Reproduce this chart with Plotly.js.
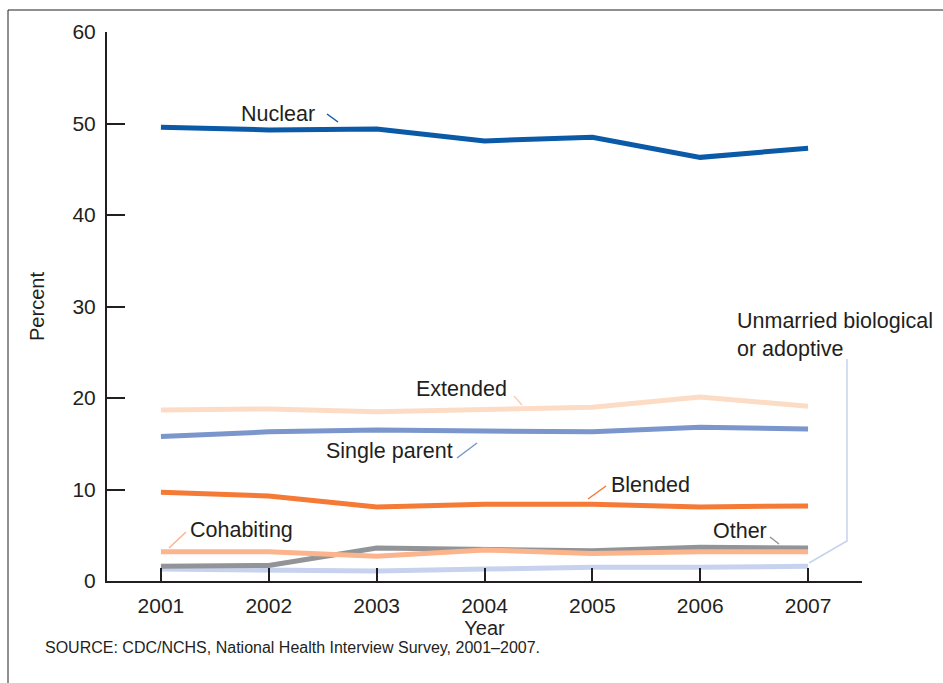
<!DOCTYPE html>
<html>
<head>
<meta charset="utf-8">
<script src="https://cdn.plot.ly/plotly-3.0.1.min.js"></script>
<style>html,body{margin:0;padding:0;background:#fff;}#chart{width:943px;height:683px;}</style>
</head>
<body>
<div id="chart"></div>
<script>
// ---- data ----
const years = [2001, 2002, 2003, 2004, 2005, 2006, 2007];
const nuclear      = [49.6, 49.3, 49.4, 48.1, 48.5, 46.3, 47.3];
const extended     = [18.7, 18.8, 18.5, 18.7, 19.0, 20.1, 19.1];
const singleParent = [15.8, 16.3, 16.5, 16.4, 16.3, 16.8, 16.6];
const blended      = [9.7, 9.3, 8.1, 8.4, 8.4, 8.1, 8.2];
const cohabiting   = [3.2, 3.2, 2.7, 3.4, 3.0, 3.2, 3.2];
const other        = [1.6, 1.7, 3.6, 3.5, 3.3, 3.7, 3.6];
const unmarried    = [1.3, 1.2, 1.1, 1.3, 1.5, 1.5, 1.6];
const yTicks = [0, 10, 20, 30, 40, 50, 60];
const seriesNames = ["Nuclear", "Extended", "Single parent", "Blended", "Cohabiting", "Other", "Unmarried biological<br>or adoptive"];

// ---- layout geometry (pixels) ----
const W = 943, H = 683, L = 107, R = 81, T = 32, B = 102;
const PW = W - L - R, PH = H - T - B;
const xr = [2000.5, 2007.5], yr = [0, 60];
const px2x = p => xr[0] + (p - L) / PW * (xr[1] - xr[0]);
const py2y = p => yr[0] + (H - B - p) / PH * (yr[1] - yr[0]);
const px2p = p => (p - L) / PW;
const py2p = p => (H - B - p) / PH;

const ink = '#231f20';
const font = 'Liberation Sans, Arial, sans-serif';

function tr(y, color, name) {
  return {x: years, y: y, type: 'scatter', mode: 'lines', name: name,
          line: {color: color, width: 5}, hoverinfo: 'skip'};
}
const data = [
  tr(unmarried, '#c7d2ee', 'Unmarried'),
  tr(other, '#929497', 'Other'),
  tr(cohabiting, '#fbb48b', 'Cohabiting'),
  tr(blended, '#f47a36', 'Blended'),
  tr(singleParent, '#7a96cd', 'Single parent'),
  tr(extended, '#fddcc6', 'Extended'),
  tr(nuclear, '#0a5aa8', 'Nuclear')
];

function lead(x0, y0, x1, y1, color) {
  return {type: 'line', xref: 'x', yref: 'y', x0: px2x(x0), y0: py2y(y0), x1: px2x(x1), y1: py2y(y1),
          line: {color: color, width: 1.5}};
}
const shapes = [
  // outer frame
  {type: 'rect', xref: 'paper', yref: 'paper', x0: px2p(8), x1: px2p(1000), y0: py2p(760), y1: py2p(10),
   line: {color: ink, width: 1}, fillcolor: 'rgba(0,0,0,0)'},
  lead(327, 114, 338, 122, '#0a5aa8'),
  lead(514, 396, 522, 405, '#fbcfb2'),
  lead(457, 458, 477, 443, '#7a96cd'),
  lead(588, 499, 606, 486, '#f47a36'),
  lead(169, 548, 186, 532, '#fbb48b'),
  lead(770, 537, 779, 544, '#929497'),
  {type: 'path', xref: 'x', yref: 'y',
   path: 'M ' + px2x(847) + ',' + py2y(359) + ' L ' + px2x(847) + ',' + py2y(541) + ' L ' + px2x(809) + ',' + py2y(563),
   line: {color: '#c7d2ee', width: 1.5}}
];

function lab(text, cx, cy, anchor) {
  return {text: text, xref: 'paper', yref: 'paper', x: px2p(cx), y: py2p(cy),
          xanchor: anchor || 'center', yanchor: 'middle', showarrow: false, align: 'left',
          font: {family: font, size: 21.5, color: ink}};
}
const annotations = [
  lab(seriesNames[0], 278, 114),
  lab(seriesNames[1], 461, 389),
  lab(seriesNames[2], 389, 451),
  lab(seriesNames[3], 650, 485),
  lab(seriesNames[4], 241, 530),
  lab(seriesNames[5], 740, 531),
  lab(seriesNames[6], 735, 335, 'left'),
  {text: 'SOURCE: CDC/NCHS, National Health Interview Survey, 2001\u20132007.', xref: 'paper', yref: 'paper',
   x: px2p(43), y: py2p(647), xanchor: 'left', yanchor: 'middle', showarrow: false,
   font: {family: font, size: 16, color: ink}}
];

const layout = {
  width: W, height: H,
  margin: {l: L, r: R, t: T, b: B, pad: 0},
  paper_bgcolor: '#fff', plot_bgcolor: '#fff',
  showlegend: false,
  font: {family: font, color: ink},
  xaxis: {
    range: xr, tickvals: years, ticktext: years.map(String),
    showgrid: false, zeroline: false, showline: true, linecolor: ink, linewidth: 2,
    ticks: 'inside', ticklen: 13, tickwidth: 2, tickcolor: ink,
    tickfont: {family: font, size: 21, color: ink}, ticklabelstandoff: 5,
    title: {text: 'Year', font: {family: font, size: 20, color: ink}, standoff: 2}
  },
  yaxis: {
    range: yr, tickvals: yTicks,
    showgrid: false, zeroline: false, showline: true, linecolor: ink, linewidth: 2,
    ticks: 'inside', ticklen: 18, tickwidth: 2, tickcolor: ink,
    tickfont: {family: font, size: 21, color: ink}, ticklabelstandoff: 5,
    title: {text: 'Percent', font: {family: font, size: 20, color: ink}, standoff: 22}
  },
  shapes: shapes,
  annotations: annotations
};

Plotly.newPlot('chart', data, layout, {displayModeBar: false, staticPlot: true});
</script>
</body>
</html>
